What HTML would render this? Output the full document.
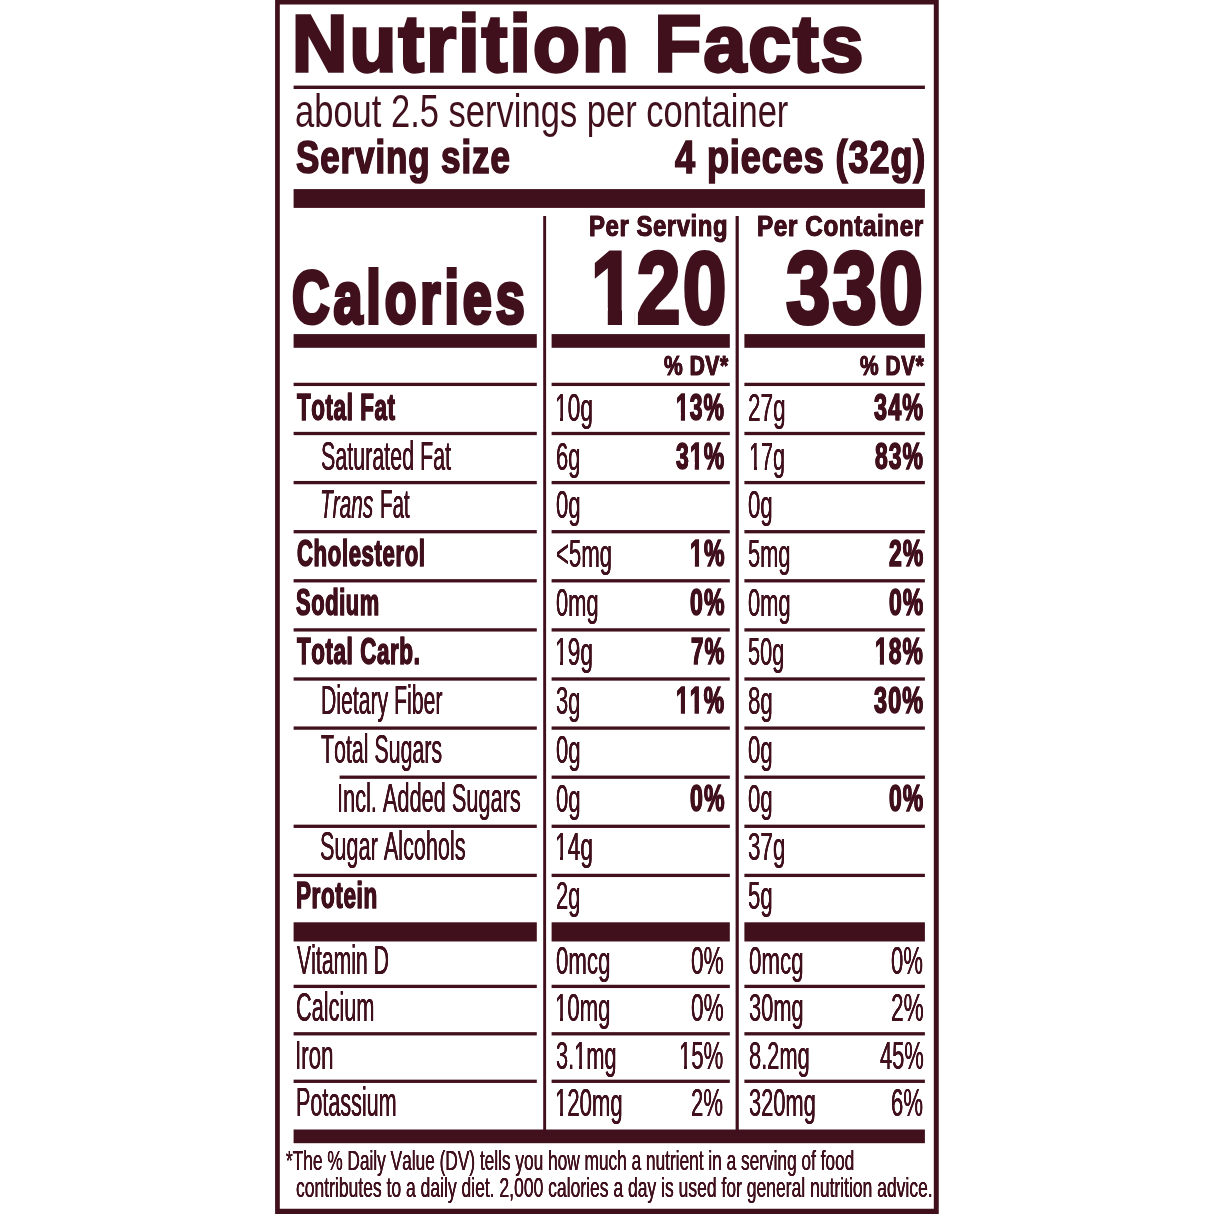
<!DOCTYPE html>
<html lang="en"><head><meta charset="utf-8"><title>Nutrition Facts</title>
<style>
html,body{margin:0;padding:0;background:#fff;}
body{width:1214px;height:1214px;position:relative;overflow:hidden;font-family:"Liberation Sans",sans-serif;color:#40101c;}
.t{position:absolute;white-space:nowrap;line-height:1;transform-origin:0 0;font-kerning:none;font-variant-ligatures:none;}
.b{font-weight:bold}.i{font-style:italic}
.m{position:absolute;background:#fff}
svg{position:absolute;left:0;top:0}
</style></head>
<body>
<main aria-label='Nutrition Facts label'>
<svg width="1214" height="1214" viewBox="0 0 1214 1214"><g fill="#40101c">
<path fill-rule="evenodd" d="M275.1 -1H938.75V1215H275.1Z M279.8 4.5V1208.7H933.8V4.5Z"/>
<rect x="293.60" y="85.60" width="631.30" height="3.40"/>
<rect x="293.60" y="189.10" width="631.30" height="18.80"/>
<rect x="543.20" y="216.00" width="2.90" height="914.00"/>
<rect x="735.60" y="216.00" width="3.20" height="914.00"/>
<rect x="293.60" y="334.10" width="243.20" height="13.70"/>
<rect x="293.60" y="382.75" width="243.20" height="3.30"/>
<rect x="293.60" y="431.85" width="243.20" height="3.30"/>
<rect x="293.60" y="480.95" width="243.20" height="3.30"/>
<rect x="293.60" y="530.05" width="243.20" height="3.30"/>
<rect x="293.60" y="579.15" width="243.20" height="3.30"/>
<rect x="293.60" y="628.25" width="243.20" height="3.30"/>
<rect x="293.60" y="677.35" width="243.20" height="3.30"/>
<rect x="293.60" y="726.45" width="243.20" height="3.30"/>
<rect x="339.60" y="775.55" width="197.20" height="3.30"/>
<rect x="293.60" y="824.65" width="243.20" height="3.30"/>
<rect x="293.60" y="873.75" width="243.20" height="3.30"/>
<rect x="293.60" y="922.30" width="243.20" height="19.20"/>
<rect x="293.60" y="984.75" width="243.20" height="3.30"/>
<rect x="293.60" y="1032.15" width="243.20" height="3.30"/>
<rect x="293.60" y="1079.65" width="243.20" height="3.30"/>
<rect x="551.60" y="334.10" width="178.20" height="13.70"/>
<rect x="551.60" y="382.75" width="178.20" height="3.30"/>
<rect x="551.60" y="431.85" width="178.20" height="3.30"/>
<rect x="551.60" y="480.95" width="178.20" height="3.30"/>
<rect x="551.60" y="530.05" width="178.20" height="3.30"/>
<rect x="551.60" y="579.15" width="178.20" height="3.30"/>
<rect x="551.60" y="628.25" width="178.20" height="3.30"/>
<rect x="551.60" y="677.35" width="178.20" height="3.30"/>
<rect x="551.60" y="726.45" width="178.20" height="3.30"/>
<rect x="551.60" y="775.55" width="178.20" height="3.30"/>
<rect x="551.60" y="824.65" width="178.20" height="3.30"/>
<rect x="551.60" y="873.75" width="178.20" height="3.30"/>
<rect x="551.60" y="922.30" width="178.20" height="19.20"/>
<rect x="551.60" y="984.75" width="178.20" height="3.30"/>
<rect x="551.60" y="1032.15" width="178.20" height="3.30"/>
<rect x="551.60" y="1079.65" width="178.20" height="3.30"/>
<rect x="744.40" y="334.10" width="180.50" height="13.70"/>
<rect x="744.40" y="382.75" width="180.50" height="3.30"/>
<rect x="744.40" y="431.85" width="180.50" height="3.30"/>
<rect x="744.40" y="480.95" width="180.50" height="3.30"/>
<rect x="744.40" y="530.05" width="180.50" height="3.30"/>
<rect x="744.40" y="579.15" width="180.50" height="3.30"/>
<rect x="744.40" y="628.25" width="180.50" height="3.30"/>
<rect x="744.40" y="677.35" width="180.50" height="3.30"/>
<rect x="744.40" y="726.45" width="180.50" height="3.30"/>
<rect x="744.40" y="775.55" width="180.50" height="3.30"/>
<rect x="744.40" y="824.65" width="180.50" height="3.30"/>
<rect x="744.40" y="873.75" width="180.50" height="3.30"/>
<rect x="744.40" y="922.30" width="180.50" height="19.20"/>
<rect x="744.40" y="984.75" width="180.50" height="3.30"/>
<rect x="744.40" y="1032.15" width="180.50" height="3.30"/>
<rect x="744.40" y="1079.65" width="180.50" height="3.30"/>
<rect x="293.60" y="1129.50" width="631.30" height="13.70"/>
</g></svg>
<span class="t b" style="left:291.62px;top:4.29px;font-size:79.4px;transform:scaleX(0.9644);text-shadow:0.52px 0 0 #40101c,-0.52px 0 0 #40101c;-webkit-text-stroke:3.3px #40101c;letter-spacing:2.31px;">Nutrition Facts</span>
<span class="t" style="left:295.16px;top:87.21px;font-size:47.0px;transform:scaleX(0.7347);">about 2.5 servings per container</span>
<span class="t b" style="left:295.77px;top:134.44px;font-size:46.5px;transform:scaleX(0.7519);text-shadow:0.40px 0 0 #40101c,-0.40px 0 0 #40101c;-webkit-text-stroke:1.7px #40101c;letter-spacing:1.19px;">Serving size</span>
<span class="t b" style="left:675.49px;top:134.44px;font-size:46.5px;transform:scaleX(0.7750);text-shadow:0.39px 0 0 #40101c,-0.39px 0 0 #40101c;-webkit-text-stroke:1.7px #40101c;letter-spacing:1.19px;">4 pieces (32g)</span>
<span class="t b" style="left:588.53px;top:210.89px;font-size:30.3px;transform:scaleX(0.7899);text-shadow:0.25px 0 0 #40101c,-0.25px 0 0 #40101c;-webkit-text-stroke:1.0px #40101c;letter-spacing:0.7px;">Per Serving</span>
<span class="t b" style="left:756.82px;top:210.89px;font-size:30.3px;transform:scaleX(0.8032);text-shadow:0.25px 0 0 #40101c,-0.25px 0 0 #40101c;-webkit-text-stroke:1.0px #40101c;letter-spacing:0.7px;">Per Container</span>
<span class="t b" style="left:292.30px;top:261.97px;font-size:73.4px;transform:scaleX(0.7090);text-shadow:0.14px 0 0 #40101c,-0.14px 0 0 #40101c;-webkit-text-stroke:4.0px #40101c;letter-spacing:5.5px;">Calories</span>
<span class="t b" style="left:591.17px;top:237.26px;font-size:102.0px;transform:scaleX(0.7705);-webkit-text-stroke:4.0px #40101c;letter-spacing:2.8px;">120</span>
<span class="t b" style="left:786.00px;top:237.26px;font-size:102.0px;transform:scaleX(0.7798);-webkit-text-stroke:4.0px #40101c;letter-spacing:2.8px;">330</span>
<span class="t b" style="left:663.76px;top:352.06px;font-size:27.3px;transform:scaleX(0.7707);text-shadow:0.39px 0 0 #40101c,-0.39px 0 0 #40101c;-webkit-text-stroke:1.0px #40101c;letter-spacing:0.7px;">% DV*</span>
<span class="t b" style="left:860.28px;top:352.43px;font-size:27.3px;transform:scaleX(0.7670);text-shadow:0.39px 0 0 #40101c,-0.39px 0 0 #40101c;-webkit-text-stroke:1.0px #40101c;letter-spacing:0.7px;">% DV*</span>
<span class="t b" style="left:296.66px;top:389.34px;font-size:37.4px;transform:scaleX(0.5972);text-shadow:0.50px 0 0 #40101c,-0.50px 0 0 #40101c;-webkit-text-stroke:1.5px #40101c;letter-spacing:1.05px;">Total Fat</span>
<span class="t" style="left:555.31px;top:388.83px;font-size:38.0px;transform:scaleX(0.5989);text-shadow:0.20px 0 0 #40101c,-0.20px 0 0 #40101c;">10g</span>
<span class="t" style="left:747.64px;top:388.83px;font-size:38.0px;transform:scaleX(0.5921);text-shadow:0.20px 0 0 #40101c,-0.20px 0 0 #40101c;">27g</span>
<span class="t b" style="left:676.19px;top:390.10px;font-size:36.5px;transform:scaleX(0.6275);text-shadow:0.48px 0 0 #40101c,-0.48px 0 0 #40101c;-webkit-text-stroke:1.5px #40101c;letter-spacing:1.7px;">13%</span>
<span class="t b" style="left:874.41px;top:390.10px;font-size:36.5px;transform:scaleX(0.6422);text-shadow:0.47px 0 0 #40101c,-0.47px 0 0 #40101c;-webkit-text-stroke:1.5px #40101c;letter-spacing:1.7px;">34%</span>
<span class="t" style="left:320.88px;top:436.14px;font-size:40.0px;transform:scaleX(0.5366);text-shadow:0.22px 0 0 #40101c,-0.22px 0 0 #40101c;">Saturated Fat</span>
<span class="t" style="left:556.06px;top:437.83px;font-size:38.0px;transform:scaleX(0.5788);text-shadow:0.21px 0 0 #40101c,-0.21px 0 0 #40101c;">6g</span>
<span class="t" style="left:748.86px;top:437.83px;font-size:38.0px;transform:scaleX(0.5678);text-shadow:0.21px 0 0 #40101c,-0.21px 0 0 #40101c;">17g</span>
<span class="t b" style="left:675.85px;top:439.10px;font-size:36.5px;transform:scaleX(0.6316);text-shadow:0.47px 0 0 #40101c,-0.47px 0 0 #40101c;-webkit-text-stroke:1.5px #40101c;letter-spacing:1.7px;">31%</span>
<span class="t b" style="left:875.15px;top:439.10px;font-size:36.5px;transform:scaleX(0.6277);text-shadow:0.48px 0 0 #40101c,-0.48px 0 0 #40101c;-webkit-text-stroke:1.5px #40101c;letter-spacing:1.7px;">83%</span>
<span class="t i" style="left:320.34px;top:484.14px;font-size:40.0px;transform:scaleX(0.5208);text-shadow:0.23px 0 0 #40101c,-0.23px 0 0 #40101c;">Trans</span>
<span class="t" style="left:379.74px;top:484.14px;font-size:40.0px;transform:scaleX(0.5122);text-shadow:0.23px 0 0 #40101c,-0.23px 0 0 #40101c;">Fat</span>
<span class="t" style="left:556.19px;top:485.83px;font-size:38.0px;transform:scaleX(0.5805);text-shadow:0.21px 0 0 #40101c,-0.21px 0 0 #40101c;">0g</span>
<span class="t" style="left:748.33px;top:485.83px;font-size:38.0px;transform:scaleX(0.5818);text-shadow:0.21px 0 0 #40101c,-0.21px 0 0 #40101c;">0g</span>
<span class="t b" style="left:296.91px;top:535.34px;font-size:37.4px;transform:scaleX(0.5922);text-shadow:0.51px 0 0 #40101c,-0.51px 0 0 #40101c;-webkit-text-stroke:1.5px #40101c;letter-spacing:1.05px;">Cholesterol</span>
<span class="t" style="left:556.05px;top:534.83px;font-size:38.0px;transform:scaleX(0.5833);text-shadow:0.21px 0 0 #40101c,-0.21px 0 0 #40101c;">&lt;5mg</span>
<span class="t" style="left:748.15px;top:534.83px;font-size:38.0px;transform:scaleX(0.5742);text-shadow:0.21px 0 0 #40101c,-0.21px 0 0 #40101c;">5mg</span>
<span class="t b" style="left:689.90px;top:536.10px;font-size:36.5px;transform:scaleX(0.6324);text-shadow:0.47px 0 0 #40101c,-0.47px 0 0 #40101c;-webkit-text-stroke:1.5px #40101c;letter-spacing:1.7px;">1%</span>
<span class="t b" style="left:889.03px;top:536.10px;font-size:36.5px;transform:scaleX(0.6300);text-shadow:0.48px 0 0 #40101c,-0.48px 0 0 #40101c;-webkit-text-stroke:1.5px #40101c;letter-spacing:1.7px;">2%</span>
<span class="t b" style="left:295.80px;top:584.34px;font-size:37.4px;transform:scaleX(0.5846);text-shadow:0.51px 0 0 #40101c,-0.51px 0 0 #40101c;-webkit-text-stroke:1.5px #40101c;letter-spacing:1.05px;">Sodium</span>
<span class="t" style="left:556.32px;top:583.83px;font-size:38.0px;transform:scaleX(0.5761);text-shadow:0.21px 0 0 #40101c,-0.21px 0 0 #40101c;">0mg</span>
<span class="t" style="left:748.32px;top:583.83px;font-size:38.0px;transform:scaleX(0.5761);text-shadow:0.21px 0 0 #40101c,-0.21px 0 0 #40101c;">0mg</span>
<span class="t b" style="left:690.03px;top:585.10px;font-size:36.5px;transform:scaleX(0.6332);text-shadow:0.47px 0 0 #40101c,-0.47px 0 0 #40101c;-webkit-text-stroke:1.5px #40101c;letter-spacing:1.7px;">0%</span>
<span class="t b" style="left:888.58px;top:585.10px;font-size:36.5px;transform:scaleX(0.6286);text-shadow:0.48px 0 0 #40101c,-0.48px 0 0 #40101c;-webkit-text-stroke:1.5px #40101c;letter-spacing:1.7px;">0%</span>
<span class="t b" style="left:296.66px;top:633.34px;font-size:37.4px;transform:scaleX(0.5969);text-shadow:0.50px 0 0 #40101c,-0.50px 0 0 #40101c;-webkit-text-stroke:1.5px #40101c;letter-spacing:1.05px;">Total Carb.</span>
<span class="t" style="left:555.31px;top:632.83px;font-size:38.0px;transform:scaleX(0.5989);text-shadow:0.20px 0 0 #40101c,-0.20px 0 0 #40101c;">19g</span>
<span class="t" style="left:747.86px;top:632.83px;font-size:38.0px;transform:scaleX(0.5727);text-shadow:0.21px 0 0 #40101c,-0.21px 0 0 #40101c;">50g</span>
<span class="t b" style="left:691.01px;top:634.10px;font-size:36.5px;transform:scaleX(0.6129);text-shadow:0.49px 0 0 #40101c,-0.49px 0 0 #40101c;-webkit-text-stroke:1.5px #40101c;letter-spacing:1.7px;">7%</span>
<span class="t b" style="left:874.72px;top:634.10px;font-size:36.5px;transform:scaleX(0.6262);text-shadow:0.48px 0 0 #40101c,-0.48px 0 0 #40101c;-webkit-text-stroke:1.5px #40101c;letter-spacing:1.7px;">18%</span>
<span class="t" style="left:320.76px;top:680.14px;font-size:40.0px;transform:scaleX(0.5305);text-shadow:0.23px 0 0 #40101c,-0.23px 0 0 #40101c;">Dietary Fiber</span>
<span class="t" style="left:555.69px;top:681.83px;font-size:38.0px;transform:scaleX(0.5782);text-shadow:0.21px 0 0 #40101c,-0.21px 0 0 #40101c;">3g</span>
<span class="t" style="left:747.72px;top:681.83px;font-size:38.0px;transform:scaleX(0.5846);text-shadow:0.21px 0 0 #40101c,-0.21px 0 0 #40101c;">8g</span>
<span class="t b" style="left:676.29px;top:683.10px;font-size:36.5px;transform:scaleX(0.6289);text-shadow:0.48px 0 0 #40101c,-0.48px 0 0 #40101c;-webkit-text-stroke:1.5px #40101c;letter-spacing:1.7px;">11%</span>
<span class="t b" style="left:874.41px;top:683.10px;font-size:36.5px;transform:scaleX(0.6422);text-shadow:0.47px 0 0 #40101c,-0.47px 0 0 #40101c;-webkit-text-stroke:1.5px #40101c;letter-spacing:1.7px;">30%</span>
<span class="t" style="left:321.03px;top:729.14px;font-size:40.0px;transform:scaleX(0.5341);text-shadow:0.22px 0 0 #40101c,-0.22px 0 0 #40101c;">Total Sugars</span>
<span class="t" style="left:556.19px;top:730.83px;font-size:38.0px;transform:scaleX(0.5805);text-shadow:0.21px 0 0 #40101c,-0.21px 0 0 #40101c;">0g</span>
<span class="t" style="left:748.33px;top:730.83px;font-size:38.0px;transform:scaleX(0.5818);text-shadow:0.21px 0 0 #40101c,-0.21px 0 0 #40101c;">0g</span>
<span class="t" style="left:337.47px;top:778.14px;font-size:40.0px;transform:scaleX(0.5437);text-shadow:0.22px 0 0 #40101c,-0.22px 0 0 #40101c;">Incl. Added Sugars</span>
<span class="t" style="left:556.19px;top:779.83px;font-size:38.0px;transform:scaleX(0.5805);text-shadow:0.21px 0 0 #40101c,-0.21px 0 0 #40101c;">0g</span>
<span class="t" style="left:748.33px;top:779.83px;font-size:38.0px;transform:scaleX(0.5818);text-shadow:0.21px 0 0 #40101c,-0.21px 0 0 #40101c;">0g</span>
<span class="t b" style="left:690.03px;top:781.10px;font-size:36.5px;transform:scaleX(0.6332);text-shadow:0.47px 0 0 #40101c,-0.47px 0 0 #40101c;-webkit-text-stroke:1.5px #40101c;letter-spacing:1.7px;">0%</span>
<span class="t b" style="left:888.58px;top:781.10px;font-size:36.5px;transform:scaleX(0.6286);text-shadow:0.48px 0 0 #40101c,-0.48px 0 0 #40101c;-webkit-text-stroke:1.5px #40101c;letter-spacing:1.7px;">0%</span>
<span class="t" style="left:320.25px;top:826.14px;font-size:40.0px;transform:scaleX(0.5412);text-shadow:0.22px 0 0 #40101c,-0.22px 0 0 #40101c;">Sugar Alcohols</span>
<span class="t" style="left:555.31px;top:827.83px;font-size:38.0px;transform:scaleX(0.5989);text-shadow:0.20px 0 0 #40101c,-0.20px 0 0 #40101c;">14g</span>
<span class="t" style="left:747.64px;top:827.83px;font-size:38.0px;transform:scaleX(0.5900);text-shadow:0.20px 0 0 #40101c,-0.20px 0 0 #40101c;">37g</span>
<span class="t b" style="left:296.18px;top:877.34px;font-size:37.4px;transform:scaleX(0.6012);text-shadow:0.50px 0 0 #40101c,-0.50px 0 0 #40101c;-webkit-text-stroke:1.5px #40101c;letter-spacing:1.05px;">Protein</span>
<span class="t" style="left:556.06px;top:876.83px;font-size:38.0px;transform:scaleX(0.5788);text-shadow:0.21px 0 0 #40101c,-0.21px 0 0 #40101c;">2g</span>
<span class="t" style="left:747.78px;top:876.83px;font-size:38.0px;transform:scaleX(0.5832);text-shadow:0.21px 0 0 #40101c,-0.21px 0 0 #40101c;">5g</span>
<span class="t" style="left:296.93px;top:940.14px;font-size:40.0px;transform:scaleX(0.5307);text-shadow:0.23px 0 0 #40101c,-0.23px 0 0 #40101c;">Vitamin D</span>
<span class="t" style="left:556.09px;top:941.83px;font-size:38.0px;transform:scaleX(0.5851);text-shadow:0.21px 0 0 #40101c,-0.21px 0 0 #40101c;">0mcg</span>
<span class="t" style="left:690.57px;top:941.83px;font-size:38.0px;transform:scaleX(0.5971);text-shadow:0.20px 0 0 #40101c,-0.20px 0 0 #40101c;">0%</span>
<span class="t" style="left:748.91px;top:941.83px;font-size:38.0px;transform:scaleX(0.5873);text-shadow:0.20px 0 0 #40101c,-0.20px 0 0 #40101c;">0mcg</span>
<span class="t" style="left:891.08px;top:941.83px;font-size:38.0px;transform:scaleX(0.5800);text-shadow:0.21px 0 0 #40101c,-0.21px 0 0 #40101c;">0%</span>
<span class="t" style="left:295.70px;top:987.14px;font-size:40.0px;transform:scaleX(0.5427);text-shadow:0.22px 0 0 #40101c,-0.22px 0 0 #40101c;">Calcium</span>
<span class="t" style="left:555.35px;top:988.83px;font-size:38.0px;transform:scaleX(0.5831);text-shadow:0.21px 0 0 #40101c,-0.21px 0 0 #40101c;">10mg</span>
<span class="t" style="left:690.57px;top:988.83px;font-size:38.0px;transform:scaleX(0.5971);text-shadow:0.20px 0 0 #40101c,-0.20px 0 0 #40101c;">0%</span>
<span class="t" style="left:748.84px;top:988.83px;font-size:38.0px;transform:scaleX(0.5748);text-shadow:0.21px 0 0 #40101c,-0.21px 0 0 #40101c;">30mg</span>
<span class="t" style="left:891.17px;top:988.83px;font-size:38.0px;transform:scaleX(0.5953);text-shadow:0.20px 0 0 #40101c,-0.20px 0 0 #40101c;">2%</span>
<span class="t" style="left:295.43px;top:1035.14px;font-size:40.0px;transform:scaleX(0.5594);text-shadow:0.21px 0 0 #40101c,-0.21px 0 0 #40101c;">Iron</span>
<span class="t" style="left:556.37px;top:1036.83px;font-size:38.0px;transform:scaleX(0.5735);text-shadow:0.21px 0 0 #40101c,-0.21px 0 0 #40101c;">3.1mg</span>
<span class="t" style="left:679.48px;top:1036.83px;font-size:38.0px;transform:scaleX(0.5816);text-shadow:0.21px 0 0 #40101c,-0.21px 0 0 #40101c;">15%</span>
<span class="t" style="left:748.63px;top:1036.83px;font-size:38.0px;transform:scaleX(0.5753);text-shadow:0.21px 0 0 #40101c,-0.21px 0 0 #40101c;">8.2mg</span>
<span class="t" style="left:879.64px;top:1036.83px;font-size:38.0px;transform:scaleX(0.5753);text-shadow:0.21px 0 0 #40101c,-0.21px 0 0 #40101c;">45%</span>
<span class="t" style="left:296.48px;top:1082.14px;font-size:40.0px;transform:scaleX(0.5388);text-shadow:0.22px 0 0 #40101c,-0.22px 0 0 #40101c;">Potassium</span>
<span class="t" style="left:555.36px;top:1083.83px;font-size:38.0px;transform:scaleX(0.5817);text-shadow:0.21px 0 0 #40101c,-0.21px 0 0 #40101c;">120mg</span>
<span class="t" style="left:690.76px;top:1083.83px;font-size:38.0px;transform:scaleX(0.5819);text-shadow:0.21px 0 0 #40101c,-0.21px 0 0 #40101c;">2%</span>
<span class="t" style="left:748.83px;top:1083.83px;font-size:38.0px;transform:scaleX(0.5756);text-shadow:0.21px 0 0 #40101c,-0.21px 0 0 #40101c;">320mg</span>
<span class="t" style="left:890.76px;top:1083.83px;font-size:38.0px;transform:scaleX(0.5819);text-shadow:0.21px 0 0 #40101c,-0.21px 0 0 #40101c;">6%</span>
<span class="t" style="left:286.07px;top:1147.30px;font-size:28.0px;transform:scaleX(0.6168);text-shadow:0.16px 0 0 #40101c,-0.16px 0 0 #40101c;">*The % Daily Value (DV) tells you how much a nutrient in a serving of food</span>
<span class="t" style="left:296.17px;top:1174.30px;font-size:28.0px;transform:scaleX(0.6255);text-shadow:0.16px 0 0 #40101c,-0.16px 0 0 #40101c;">contributes to a daily diet. 2,000 calories a day is used for general nutrition advice.</span>
<div class="m" style="left:589px;top:308px;width:18px;height:18px"></div>
<div class="m" style="left:623px;top:308px;width:11px;height:18px"></div>
<div class="m" style="left:607px;top:308px;width:1px;height:18px;opacity:0.8"></div>
<div class="m" style="left:622px;top:308px;width:1px;height:18px"></div>
<div class="m" style="left:555px;top:418px;width:4px;height:4px"></div>
<div class="m" style="left:564px;top:418px;width:3px;height:4px"></div>
<div class="m" style="left:559px;top:418px;width:1px;height:4px"></div>
<div class="m" style="left:563px;top:418px;width:1px;height:4px"></div>
<div class="m" style="left:675px;top:413px;width:5px;height:9px"></div>
<div class="m" style="left:686px;top:413px;width:3px;height:9px"></div>
<div class="m" style="left:680px;top:413px;width:1px;height:9px;opacity:0.87"></div>
<div class="m" style="left:685px;top:413px;width:1px;height:9px"></div>
<div class="m" style="left:748px;top:467px;width:5px;height:4px"></div>
<div class="m" style="left:758px;top:467px;width:2px;height:4px"></div>
<div class="m" style="left:753px;top:467px;width:1px;height:4px"></div>
<div class="m" style="left:757px;top:467px;width:1px;height:4px"></div>
<div class="m" style="left:688px;top:462px;width:6px;height:9px"></div>
<div class="m" style="left:700px;top:462px;width:3px;height:9px"></div>
<div class="m" style="left:694px;top:462px;width:1px;height:9px;opacity:0.79"></div>
<div class="m" style="left:699px;top:462px;width:1px;height:9px;opacity:0.98"></div>
<div class="m" style="left:688px;top:561px;width:6px;height:7px"></div>
<div class="m" style="left:700px;top:561px;width:3px;height:7px"></div>
<div class="m" style="left:694px;top:561px;width:1px;height:7px;opacity:0.91"></div>
<div class="m" style="left:699px;top:561px;width:1px;height:7px;opacity:0.96"></div>
<div class="m" style="left:555px;top:662px;width:4px;height:4px"></div>
<div class="m" style="left:564px;top:662px;width:3px;height:4px"></div>
<div class="m" style="left:559px;top:662px;width:1px;height:4px"></div>
<div class="m" style="left:563px;top:662px;width:1px;height:4px"></div>
<div class="m" style="left:873px;top:657px;width:6px;height:9px"></div>
<div class="m" style="left:885px;top:657px;width:3px;height:9px"></div>
<div class="m" style="left:879px;top:657px;width:1px;height:9px;opacity:0.86"></div>
<div class="m" style="left:884px;top:657px;width:1px;height:9px"></div>
<div class="m" style="left:675px;top:708px;width:5px;height:7px"></div>
<div class="m" style="left:686px;top:708px;width:3px;height:7px"></div>
<div class="m" style="left:680px;top:708px;width:1px;height:7px;opacity:0.88"></div>
<div class="m" style="left:685px;top:708px;width:1px;height:7px"></div>
<div class="m" style="left:689px;top:708px;width:5px;height:7px"></div>
<div class="m" style="left:700px;top:708px;width:3px;height:7px"></div>
<div class="m" style="left:694px;top:708px;width:1px;height:7px;opacity:0.54"></div>
<div class="m" style="left:699px;top:708px;width:1px;height:7px"></div>
<div class="m" style="left:555px;top:857px;width:4px;height:4px"></div>
<div class="m" style="left:564px;top:857px;width:3px;height:4px"></div>
<div class="m" style="left:559px;top:857px;width:1px;height:4px"></div>
<div class="m" style="left:563px;top:857px;width:1px;height:4px"></div>
<div class="m" style="left:555px;top:1018px;width:4px;height:4px"></div>
<div class="m" style="left:564px;top:1018px;width:3px;height:4px"></div>
<div class="m" style="left:559px;top:1018px;width:1px;height:4px"></div>
<div class="m" style="left:563px;top:1018px;width:1px;height:4px"></div>
<div class="m" style="left:574px;top:1066px;width:4px;height:4px"></div>
<div class="m" style="left:583px;top:1066px;width:3px;height:4px"></div>
<div class="m" style="left:578px;top:1066px;width:1px;height:4px"></div>
<div class="m" style="left:582px;top:1066px;width:1px;height:4px"></div>
<div class="m" style="left:679px;top:1066px;width:4px;height:4px"></div>
<div class="m" style="left:688px;top:1066px;width:3px;height:4px"></div>
<div class="m" style="left:683px;top:1066px;width:1px;height:4px"></div>
<div class="m" style="left:687px;top:1066px;width:1px;height:4px"></div>
<div class="m" style="left:555px;top:1113px;width:4px;height:4px"></div>
<div class="m" style="left:564px;top:1113px;width:3px;height:4px"></div>
<div class="m" style="left:559px;top:1113px;width:1px;height:4px"></div>
<div class="m" style="left:563px;top:1113px;width:1px;height:4px"></div>
</main>
</body></html>
